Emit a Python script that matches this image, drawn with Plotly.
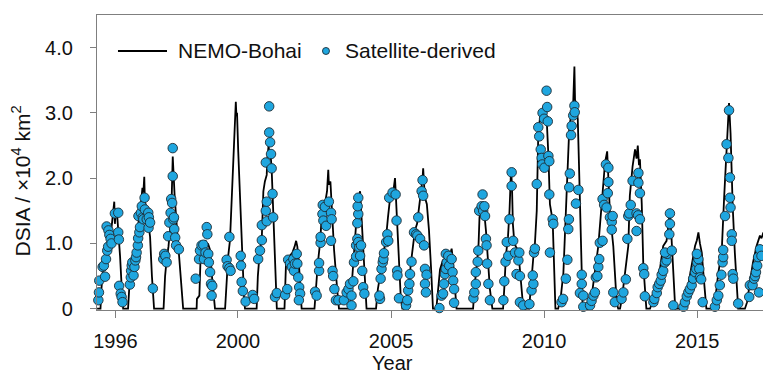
import plotly.graph_objects as go

# NEMO-Bohai modelled daily sea-ice area (decimal year, 10^4 km^2), one row per winter
model_year = [
    1995.40, 1995.51, 1995.54, 1995.59, 1995.69, 1995.76, 1995.85, 1995.90, 1995.93, 1995.96, 1995.98, 1996.01, 1996.04, 1996.07, 1996.10, 1996.15, 1996.20, 1996.25,
    1996.41, 1996.46, 1996.51, 1996.57, 1996.64, 1996.70, 1996.77, 1996.83, 1996.88, 1996.91, 1996.94, 1996.96, 1997.00, 1997.05, 1997.06, 1997.13, 1997.19, 1997.26,
    1997.57, 1997.62, 1997.67, 1997.73, 1997.78, 1997.83, 1997.87, 1997.89, 1997.93, 1997.98, 1998.04, 1998.11, 1998.17, 1998.21,
    1998.65, 1998.66, 1998.74, 1998.78, 1998.83, 1998.89, 1998.94, 1998.97, 1999.02, 1999.09, 1999.15, 1999.22, 1999.25,
    1999.58, 1999.63, 1999.68, 1999.74, 1999.80, 1999.85, 1999.89, 1999.93, 1999.95, 1999.97, 2000.01, 2000.07, 2000.12, 2000.20, 2000.23,
    2000.61, 2000.65, 2000.70, 2000.78, 2000.83, 2000.88, 2000.94, 2000.96, 2001.00, 2001.03, 2001.06, 2001.10, 2001.15, 2001.21, 2001.27,
    2001.52, 2001.57, 2001.67, 2001.77, 2001.85, 2001.90, 2001.94, 2001.99, 2002.04, 2002.08,
    2002.50, 2002.55, 2002.61, 2002.68, 2002.75, 2002.84, 2002.91, 2002.95, 2002.97, 2003.02, 2003.07, 2003.14, 2003.24, 2003.30,
    2003.66, 2003.72, 2003.79, 2003.86, 2003.90, 2003.94, 2003.99, 2004.04, 2004.10, 2004.17, 2004.20,
    2004.51, 2004.57, 2004.64, 2004.70, 2004.77, 2004.84, 2004.90, 2004.97, 2005.03, 2005.07, 2005.13, 2005.16, 2005.21, 2005.26, 2005.32, 2005.37,
    2005.46, 2005.52, 2005.59, 2005.65, 2005.72, 2005.78, 2005.85, 2005.91, 2005.98, 2006.03, 2006.05, 2006.08, 2006.11, 2006.17, 2006.24, 2006.31, 2006.37,
    2006.48, 2006.53, 2006.60, 2006.70, 2006.79, 2006.88, 2006.94, 2006.98, 2007.01, 2007.06, 2007.11, 2007.14,
    2007.68, 2007.74, 2007.81, 2007.86, 2007.89, 2007.96, 2008.00, 2008.05, 2008.10, 2008.17, 2008.23, 2008.31,
    2008.66, 2008.71, 2008.75, 2008.82, 2008.87, 2008.92, 2008.95, 2008.98, 2009.03, 2009.08, 2009.15, 2009.21, 2009.28, 2009.32,
    2009.51, 2009.59, 2009.65, 2009.70, 2009.76, 2009.81, 2009.87, 2009.92, 2009.96, 2010.01, 2010.08, 2010.14, 2010.19, 2010.28, 2010.32, 2010.37,
    2010.46, 2010.55, 2010.63, 2010.68, 2010.76, 2010.82, 2010.90, 2010.95, 2010.99, 2011.01, 2011.04, 2011.10, 2011.14, 2011.17, 2011.22, 2011.26,
    2011.50, 2011.56, 2011.66, 2011.77, 2011.88, 2011.99, 2012.06, 2012.10, 2012.15, 2012.26, 2012.37, 2012.42,
    2012.48, 2012.54, 2012.64, 2012.75, 2012.80, 2012.89, 2012.97, 2013.02, 2013.06, 2013.10, 2013.13, 2013.19, 2013.24, 2013.29, 2013.34,
    2013.46, 2013.56, 2013.68, 2013.78, 2013.89, 2014.00, 2014.06, 2014.11, 2014.16, 2014.21, 2014.27, 2014.32,
    2014.54, 2014.63, 2014.76, 2014.86, 2014.93, 2014.99, 2015.04, 2015.09, 2015.15, 2015.21, 2015.25, 2015.30,
    2015.48, 2015.58, 2015.69, 2015.80, 2015.88, 2015.96, 2016.04, 2016.09, 2016.16, 2016.23, 2016.30, 2016.34,
    2016.56, 2016.63, 2016.72, 2016.82, 2016.94, 2017.00, 2017.05, 2017.10, 2017.15, 2017.25,
]
model_dsia = [
    0, 0, 0.30, 0.60, 0.80, 1.00, 1.15, 1.35, 1.45, 1.64, 1.30, 1.50, 1.53, 1.35, 1.20, 0.80, 0.35, 0,
    0, 0.40, 0.60, 0.75, 0.95, 1.10, 1.40, 1.60, 1.85, 1.78, 2.02, 1.65, 1.55, 1.45, 1.35, 1.10, 0.50, 0,
    0, 0.50, 0.75, 0.95, 1.20, 1.60, 2.33, 2.10, 1.75, 1.40, 1.05, 0.60, 0.20, 0,
    0, 0.15, 0.20, 0.80, 0.90, 0.95, 1.05, 0.95, 1.00, 0.90, 0.50, 0.10, 0,
    0, 0.50, 0.80, 1.05, 1.70, 2.15, 2.50, 3.17, 2.95, 3.00, 2.40, 1.70, 0.95, 0.16, 0,
    0, 0.50, 0.80, 1.10, 1.80, 1.95, 2.05, 2.30, 2.50, 2.35, 2.40, 2.15, 1.45, 0.70, 0,
    0, 0.70, 0.80, 0.85, 0.95, 1.04, 0.95, 0.70, 0.30, 0,
    0, 0.40, 0.70, 1.00, 1.50, 1.60, 1.80, 2.13, 1.90, 1.95, 1.50, 0.90, 0.30, 0,
    0, 0.35, 0.80, 1.30, 1.75, 1.70, 1.80, 1.40, 0.80, 0.20, 0,
    0, 0.30, 0.50, 0.70, 0.90, 1.10, 1.40, 1.70, 1.80, 1.78, 2.00, 1.70, 1.20, 0.60, 0.15, 0,
    0, 0.20, 0.40, 0.70, 1.00, 1.20, 1.30, 1.50, 1.80, 2.00, 2.15, 1.90, 1.70, 1.60, 1.20, 0.60, 0,
    0, 0.30, 0.60, 0.75, 0.70, 0.80, 0.85, 0.92, 0.80, 0.50, 0.15, 0,
    0, 0.40, 0.70, 1.00, 1.40, 1.57, 1.50, 1.45, 1.20, 0.70, 0.30, 0,
    0, 0.40, 0.80, 1.10, 1.50, 2.13, 1.90, 1.30, 1.00, 0.95, 0.90, 0.60, 0.20, 0,
    0, 0.50, 0.80, 1.00, 1.50, 2.70, 2.94, 3.02, 2.85, 3.00, 2.95, 2.35, 1.60, 1.35, 0.60, 0,
    0, 0.20, 0.55, 1.20, 1.98, 2.74, 3.05, 3.15, 3.71, 3.20, 3.15, 2.90, 2.20, 1.57, 0.80, 0,
    0, 0.20, 0.52, 0.96, 1.60, 2.24, 2.41, 1.98, 1.47, 0.96, 0.10, 0,
    0, 0.15, 0.52, 0.96, 1.73, 2.18, 2.44, 2.30, 2.50, 2.20, 2.29, 1.60, 0.67, 0.25, 0,
    0, 0.15, 0.30, 0.60, 0.96, 1.04, 1.30, 1.50, 1.10, 0.60, 0.12, 0,
    0, 0.15, 0.52, 0.75, 0.96, 1.05, 1.17, 1.00, 0.86, 0.50, 0.20, 0,
    0, 0.10, 0.55, 0.86, 1.70, 2.49, 3.15, 2.69, 1.57, 0.86, 0.30, 0,
    0, 0.10, 0.40, 0.70, 0.96, 1.05, 1.12, 1.08, 1.15, 1.10,
]

# Satellite-derived sea-ice area observations (decimal year, 10^4 km^2)
sat_year = [
    1995.44, 1995.46, 1995.47, 1995.58, 1995.62, 1995.66, 1995.69, 1995.73, 1995.71, 1995.77, 1995.76, 1995.80, 1995.84, 1995.87, 1995.98, 1996.09, 1996.09, 1996.11, 1996.12, 1996.17, 1996.20, 1996.23,
    1996.47, 1996.50, 1996.51, 1996.53, 1996.55, 1996.59, 1996.62, 1996.65, 1996.67, 1996.69, 1996.73, 1996.74, 1996.78, 1996.80, 1996.75, 1996.83, 1996.86, 1996.89, 1996.91, 1996.95, 1996.96, 1997.02, 1997.07, 1997.09, 1997.08, 1997.13, 1997.22,
    1997.56, 1997.59, 1997.63, 1997.67, 1997.72, 1997.76, 1997.80, 1997.82, 1997.85, 1997.87, 1997.87, 1997.89, 1997.91, 1997.92, 1997.95, 1997.98, 1998.07,
    1998.62, 1998.73, 1998.76, 1998.81, 1998.87, 1998.89, 1998.94, 1998.98, 1999.00, 1999.03, 1999.05, 1999.09, 1999.12, 1999.16, 1999.14,
    1999.63, 1999.66, 1999.72, 1999.72, 1999.76, 2000.09, 2000.10, 2000.12, 2000.16, 2000.25,
    2000.48, 2000.53, 2000.66, 2000.72, 2000.78, 2000.78, 2000.91, 2000.94, 2000.94, 2000.91, 2001.02, 2001.02, 2001.05, 2001.08, 2001.10, 2001.13, 2001.15, 2001.21, 2001.27,
    2001.54, 2001.61, 2001.64, 2001.70, 2001.76, 2001.81, 2001.83, 2001.86, 2001.92, 2001.94, 2001.97, 2002.00, 2002.03, 2001.99,
    2002.52, 2002.57, 2002.65, 2002.65, 2002.70, 2002.70, 2002.76, 2002.77, 2002.84, 2002.79, 2002.88, 2002.97, 2003.04, 2003.06, 2003.04, 2003.09, 2003.11, 2003.15, 2003.20, 2003.28,
    2003.46, 2003.55, 2003.61, 2003.66, 2003.71, 2003.71, 2003.77, 2003.79, 2003.86, 2003.86, 2003.90, 2003.93, 2003.96, 2003.99, 2003.90, 2003.93, 2003.91, 2003.93, 2004.02, 2004.06, 2004.09, 2004.13,
    2004.64, 2004.62, 2004.66, 2004.69, 2004.73, 2004.75, 2004.77, 2004.84, 2004.88, 2004.91, 2004.94, 2005.05, 2005.15, 2005.18, 2005.20, 2005.21, 2005.26,
    2005.49, 2005.53, 2005.56, 2005.60, 2005.62, 2005.67, 2005.75, 2005.82, 2005.86, 2005.89, 2005.95, 2006.00, 2006.03, 2006.05, 2006.08, 2006.11, 2006.16, 2006.11, 2006.14,
    2006.58, 2006.65, 2006.70, 2006.73, 2006.76, 2006.79, 2006.82, 2006.79, 2006.87, 2006.90, 2006.98, 2007.01, 2007.03, 2007.06, 2007.06,
    2007.69, 2007.72, 2007.77, 2007.77, 2007.83, 2007.85, 2007.88, 2007.96, 2007.99, 2008.01, 2008.05, 2008.07, 2008.10, 2008.12, 2008.14, 2008.18, 2008.23,
    2008.67, 2008.70, 2008.74, 2008.78, 2008.83, 2008.87, 2008.94, 2008.94, 2008.99, 2009.05, 2009.10, 2009.16, 2009.19, 2009.21, 2009.21, 2009.32, 2009.52,
    2009.59, 2009.65, 2009.63, 2009.67, 2009.70, 2009.76, 2009.81, 2009.84, 2009.89, 2009.92, 2009.94, 2009.95, 2010.00, 2010.08, 2010.10, 2010.12, 2010.01, 2010.14, 2010.17, 2010.17, 2010.19, 2010.28, 2010.30,
    2010.57, 2010.62, 2010.71, 2010.76, 2010.79, 2010.81, 2010.82, 2010.84, 2010.88, 2010.90, 2010.95, 2010.99, 2011.00, 2011.04, 2011.12, 2011.23, 2011.23, 2011.17, 2011.28, 2011.28,
    2011.50, 2011.55, 2011.61, 2011.66, 2011.69, 2011.74, 2011.77, 2011.80, 2011.82, 2011.91, 2011.91, 2011.96, 2012.04, 2012.08, 2012.10, 2012.02, 2012.10, 2012.15, 2012.21, 2012.21, 2012.24, 2012.26, 2012.31,
    2012.53, 2012.59, 2012.67, 2012.72, 2012.75, 2012.78, 2012.83, 2012.89, 2013.02, 2013.02, 2013.07, 2013.13, 2013.08, 2013.08, 2013.13, 2013.24, 2013.27, 2013.29,
    2013.57, 2013.60, 2013.68, 2013.71, 2013.76, 2013.81, 2013.84, 2013.89, 2013.95, 2014.00, 2014.02, 2013.95, 2014.09, 2014.11, 2014.11, 2014.17, 2014.22,
    2014.55, 2014.60, 2014.66, 2014.71, 2014.76, 2014.82, 2014.87, 2014.93, 2014.97, 2015.00, 2015.04, 2014.99, 2015.07, 2015.09, 2015.13, 2015.18,
    2015.58, 2015.64, 2015.69, 2015.74, 2015.79, 2015.83, 2015.85, 2015.85, 2015.91, 2015.96, 2016.02, 2016.04, 2016.07, 2016.07, 2016.09, 2016.13, 2016.13, 2016.16, 2016.18, 2016.34,
    2016.70, 2016.72, 2016.81, 2016.86, 2016.89, 2016.92, 2016.96, 2016.99, 2017.05, 2017.10, 2017.02,
]
sat_dsia = [
    0.13, 0.25, 0.43, 0.64, 0.66, 0.49, 0.76, 0.89, 1.26, 1.20, 0.95, 1.13, 1.07, 1.00, 1.46, 1.47, 1.17, 1.06, 0.35, 0.23, 0.18, 0.10,
    0.37, 0.48, 0.58, 0.66, 0.71, 0.51, 0.64, 0.74, 0.79, 0.86, 0.97, 1.08, 1.17, 1.25, 1.42, 1.47, 1.57, 1.40, 1.37, 1.70, 1.52, 1.37, 1.47, 1.40, 1.24, 1.32, 0.31,
    0.76, 0.84, 0.81, 0.71, 1.11, 1.32, 1.47, 1.68, 1.62, 2.46, 2.03, 1.37, 1.40, 1.22, 1.09, 0.97, 0.91,
    0.46, 0.76, 0.89, 0.97, 0.98, 0.76, 0.86, 1.25, 1.14, 0.84, 0.71, 0.56, 0.38, 0.35, 0.20,
    0.75, 0.65, 1.10, 0.62, 0.58, 0.81, 0.66, 0.41, 0.27, 0.11,
    0.21, 0.15, 0.76, 0.89, 1.05, 1.28, 1.50, 1.64, 1.34, 2.24, 3.10, 2.70, 2.55, 2.37, 2.15, 1.76, 1.40, 0.18, 0.24,
    0.21, 0.30, 0.75, 0.69, 0.64, 0.76, 0.58, 0.69, 0.84, 0.69, 0.48, 0.33, 0.23, 0.13,
    0.26, 0.20, 0.58, 0.70, 1.01, 1.10, 1.45, 1.59, 1.56, 1.35, 1.27, 1.64, 1.47, 1.37, 1.04, 0.58, 0.50, 0.30, 0.13, 0.13,
    0.13, 0.25, 0.30, 0.38, 0.20, 0.05, 0.42, 0.71, 0.80, 0.97, 1.07, 1.02, 0.94, 0.81, 1.31, 1.45, 1.57, 1.70, 0.97, 0.58, 0.33, 0.23,
    0.15, 0.20, 0.46, 0.61, 0.71, 0.76, 0.85, 1.02, 1.14, 1.04, 1.70, 1.78, 1.75, 1.35, 0.58, 0.51, 0.16,
    0.05, 0.13, 0.28, 0.38, 0.53, 0.72, 1.17, 1.14, 1.12, 1.40, 1.07, 1.80, 1.97, 1.73, 0.97, 0.61, 0.52, 0.38, 0.25,
    0.01, 0.20, 0.23, 0.38, 0.53, 0.61, 0.71, 0.84, 0.81, 0.66, 0.76, 0.56, 0.43, 0.30, 0.09,
    0.16, 0.25, 0.38, 0.56, 0.72, 0.89, 1.50, 1.57, 1.75, 1.50, 1.57, 1.42, 1.07, 0.97, 0.69, 0.38, 0.13,
    0.13, 0.42, 0.72, 1.02, 0.81, 1.37, 1.88, 2.09, 1.04, 0.86, 0.53, 0.74, 0.86, 0.50, 0.10, 0.05, 0.07,
    0.28, 0.38, 0.51, 0.86, 0.92, 1.91, 2.78, 2.64, 2.44, 2.31, 2.21, 3.00, 2.91, 3.34, 3.09, 2.87, 2.16, 2.34, 2.26, 1.75, 0.86, 1.37, 1.30,
    0.10, 0.15, 0.46, 0.75, 1.22, 1.37, 1.86, 2.07, 2.66, 2.80, 2.96, 3.11, 3.01, 1.61, 1.82, 0.52, 0.38, 0.24, 0.20, 0.03,
    0.05, 0.12, 0.20, 0.25, 0.48, 0.50, 0.64, 0.76, 1.01, 1.04, 1.68, 1.59, 1.55, 1.77, 1.94, 2.21, 2.16, 1.40, 1.33, 1.21, 1.42, 0.25, 0.10,
    0.15, 0.25, 0.45, 1.07, 1.42, 1.46, 1.59, 1.96, 1.19, 1.46, 1.43, 1.37, 2.08, 1.93, 1.77, 0.62, 0.53, 0.19,
    0.10, 0.15, 0.24, 0.33, 0.38, 0.43, 0.52, 0.58, 0.71, 0.74, 0.84, 0.86, 1.14, 1.30, 1.46, 0.89, 0.05,
    0.03, 0.10, 0.19, 0.25, 0.30, 0.36, 0.46, 0.56, 0.61, 0.71, 0.76, 0.84, 0.61, 0.48, 0.45, 0.10,
    0.03, 0.13, 0.20, 0.36, 0.52, 0.71, 0.79, 0.90, 1.42, 2.52, 2.31, 3.04, 2.01, 1.70, 1.55, 1.14, 1.04, 0.53, 0.46, 0.08,
    0.18, 0.36, 0.36, 0.46, 0.50, 0.56, 0.66, 0.79, 0.91, 0.81, 0.25,
]

x_ticks = [1996, 2000, 2005, 2010, 2015]
y_ticks = [0, 1, 2, 3, 4]
y_tick_text = ["0", "1.0", "2.0", "3.0", "4.0"]

FONT = "Liberation Sans, Arial, Helvetica, sans-serif"
AXIS_GREY = "#7f7f7f"
SAT_BLUE = "#1fa6df"

fig = go.Figure()
fig.add_trace(go.Scatter(
    x=model_year, y=model_dsia, mode="lines", name="NEMO-Bohai",
    line=dict(color="#000000", width=1.8),
))
fig.add_trace(go.Scatter(
    x=sat_year, y=sat_dsia, mode="markers", name="Satellite-derived",
    marker=dict(size=9.5, color=SAT_BLUE, line=dict(color="#1d2d36", width=0.9)),
    cliponaxis=False,
))

fig.update_layout(
    width=763, height=376,
    margin=dict(l=97, r=0, t=15, b=66),
    paper_bgcolor="white", plot_bgcolor="white",
    showlegend=False,
    font=dict(family=FONT, size=20, color="#111111"),
)
fig.update_xaxes(
    range=[1995.396, 2017.15],
    tickvals=x_ticks, ticktext=[str(v) for v in x_ticks],
    showline=True, linecolor=AXIS_GREY, linewidth=1.3, mirror=True,
    ticks="outside", ticklen=7, tickwidth=1.3, tickcolor=AXIS_GREY,
    ticklabelstandoff=6,
    showgrid=False, zeroline=False,
    tickfont=dict(family=FONT, size=20, color="#111111"),
)
fig.update_yaxes(
    range=[-0.02, 4.5],
    tickvals=y_ticks, ticktext=y_tick_text,
    showline=True, linecolor=AXIS_GREY, linewidth=1.3,
    ticks="outside", ticklen=6, tickwidth=1.3, tickcolor=AXIS_GREY,
    ticklabelstandoff=13,
    showgrid=False, zeroline=False,
    tickfont=dict(family=FONT, size=20, color="#111111"),
)

# Axis titles
fig.add_annotation(
    text="DSIA / ×10<sup>4</sup> km<sup>2</sup>", textangle=-90,
    xref="paper", yref="paper", x=-0.114, y=0.436,
    xanchor="center", yanchor="middle", showarrow=False,
    font=dict(family=FONT, size=21, color="#111111"),
)
fig.add_annotation(
    text="Year", xref="paper", yref="paper", x=0.443, y=-0.181,
    xanchor="center", yanchor="middle", showarrow=False,
    font=dict(family=FONT, size=20, color="#111111"),
)

# Legend drawn inside the upper-left corner of the plot
leg_y = 0.878
fig.add_shape(type="line", xref="paper", yref="paper",
              x0=0.0315, x1=0.1051, y0=leg_y, y1=leg_y,
              line=dict(color="#000000", width=2))
fig.add_annotation(text="NEMO-Bohai", xref="paper", yref="paper",
                   x=0.118, y=leg_y, xanchor="left", yanchor="middle", showarrow=False,
                   font=dict(family=FONT, size=21, color="#111111"))
fig.add_shape(type="circle", xref="paper", yref="paper",
              xsizemode="pixel", ysizemode="pixel",
              xanchor=0.3438, yanchor=leg_y, x0=-3.5, x1=3.5, y0=-3.5, y1=3.5,
              fillcolor=SAT_BLUE, line=dict(color="#1d2d36", width=0.9))
fig.add_annotation(text="Satellite-derived", xref="paper", yref="paper",
                   x=0.370, y=leg_y, xanchor="left", yanchor="middle", showarrow=False,
                   font=dict(family=FONT, size=21, color="#111111"))

fig.write_html("out.html")
